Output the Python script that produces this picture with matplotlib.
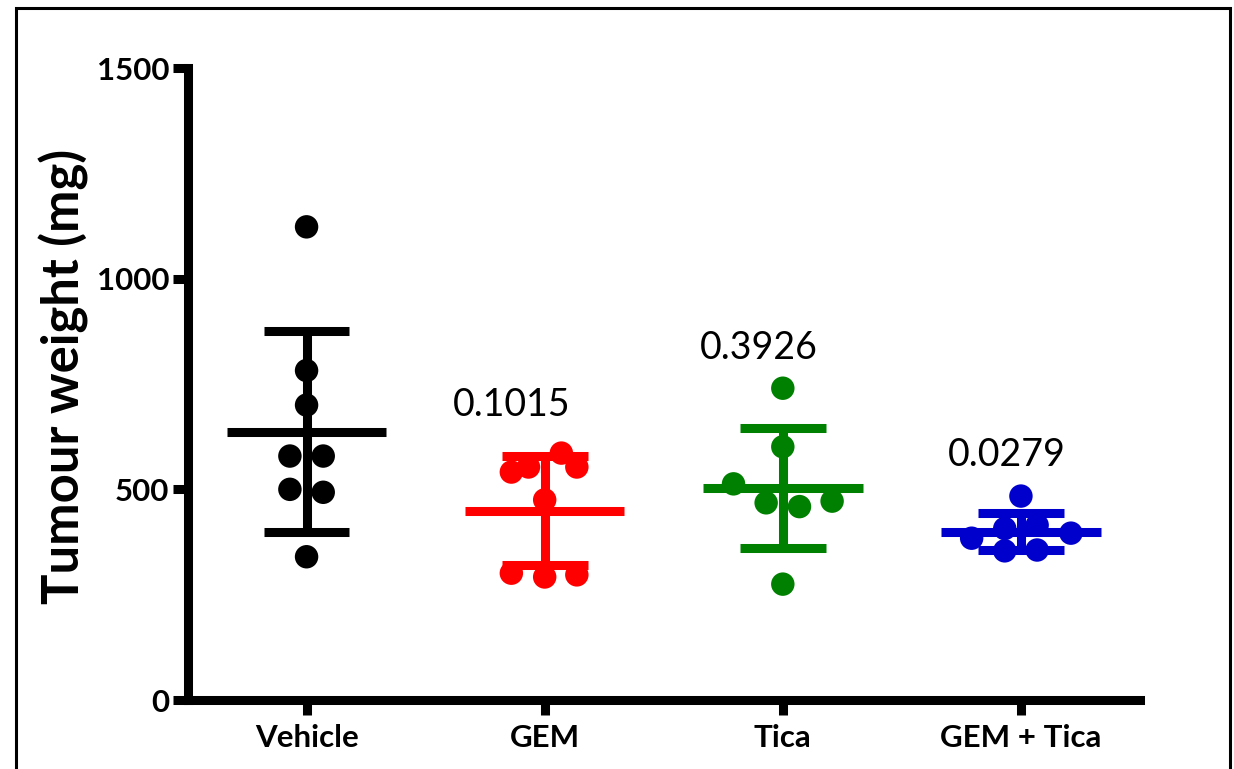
import numpy as np
import matplotlib.pyplot as plt
from matplotlib.patches import Rectangle

groups = ["Vehicle", "GEM", "Tica", "GEM + Tica"]
colors = ["black", "#FF0000", "#008000", "#0000CC"]

vehicle = [1123, 782, 700, 579, 579, 500, 493, 340]
gem = [586, 553, 553, 541, 475, 301, 292, 297]
tica = [740, 601, 513, 468, 459, 472, 275]
gem_tica = [484, 384, 407, 354, 415, 356, 396]

# horizontal scatter of the points inside each column
vehicle_dx = [0, 0, 0, -0.07, 0.07, -0.07, 0.07, 0]
gem_dx = [0.07, 0.135, -0.068, -0.14, 0, -0.14, 0, 0.135]
tica_dx = [0, 0, -0.207, -0.07, 0.07, 0.207, 0]
gem_tica_dx = [0, -0.207, -0.068, -0.068, 0.068, 0.068, 0.21]

p_values = ["0.1015", "0.3926", "0.0279"]

data = [vehicle, gem, tica, gem_tica]
offsets = [vehicle_dx, gem_dx, tica_dx, gem_tica_dx]

fig = plt.figure(figsize=(12.34, 7.69), dpi=100)
ax = fig.add_axes([187.5 / 1234, 69 / 769, (1140 - 187.5) / 1234, 632 / 769])

lw = 6.5
for i, (vals, dx, c) in enumerate(zip(data, offsets, colors)):
    vals = np.array(vals, dtype=float)
    m = vals.mean()
    sd = vals.std(ddof=1)
    ax.plot([i - 0.335, i + 0.335], [m, m], color=c, lw=lw, solid_capstyle="butt", zorder=2)
    ax.plot([i, i], [m - sd, m + sd], color=c, lw=lw, solid_capstyle="butt", zorder=2)
    for y in (m - sd, m + sd):
        ax.plot([i - 0.18, i + 0.18], [y, y], color=c, lw=lw, solid_capstyle="butt", zorder=2)
    ax.scatter(i + np.array(dx), vals, s=285, color=c, edgecolors="none", zorder=3)

# p-values over the treated groups
ax.text(0.86, 700, p_values[0], ha="center", va="center", fontsize=27, family="Lato")
ax.text(1.9, 835, p_values[1], ha="center", va="center", fontsize=27, family="Lato")
ax.text(2.94, 582, p_values[2], ha="center", va="center", fontsize=27, family="Lato")

ax.set_xlim(-0.5, 3.5)
ax.set_ylim(0, 1500)
ax.set_yticks([0, 500, 1000, 1500])
ax.set_xticks(range(4))
ax.set_xticklabels(groups, fontsize=22.5, fontweight="bold", family="Lato")
for lab in ax.get_yticklabels():
    lab.set_fontsize(22.5)
    lab.set_fontweight("bold")
    lab.set_family("Lato")
ax.tick_params(axis="both", width=lw, length=11, pad=2)
ax.tick_params(axis="x", pad=6)
ax.set_ylabel("Tumour weight (mg)", fontsize=36.5, fontweight="bold", family="Lato", labelpad=6)
ax.yaxis.label.set_y(0.512)

ax.spines["top"].set_visible(False)
ax.spines["right"].set_visible(False)
ax.spines["left"].set_linewidth(lw)
ax.spines["bottom"].set_linewidth(lw)
ax.spines["left"].set_capstyle("projecting")
ax.spines["bottom"].set_capstyle("projecting")

# outer frame around the whole figure
fig.patches.append(Rectangle((16 / 1234, -0.05), (1230 - 16) / 1234, 1.05 - 8 / 769,
                             transform=fig.transFigure, fill=False, lw=2.2, edgecolor="black"))

fig.savefig("out.png", dpi=100)
